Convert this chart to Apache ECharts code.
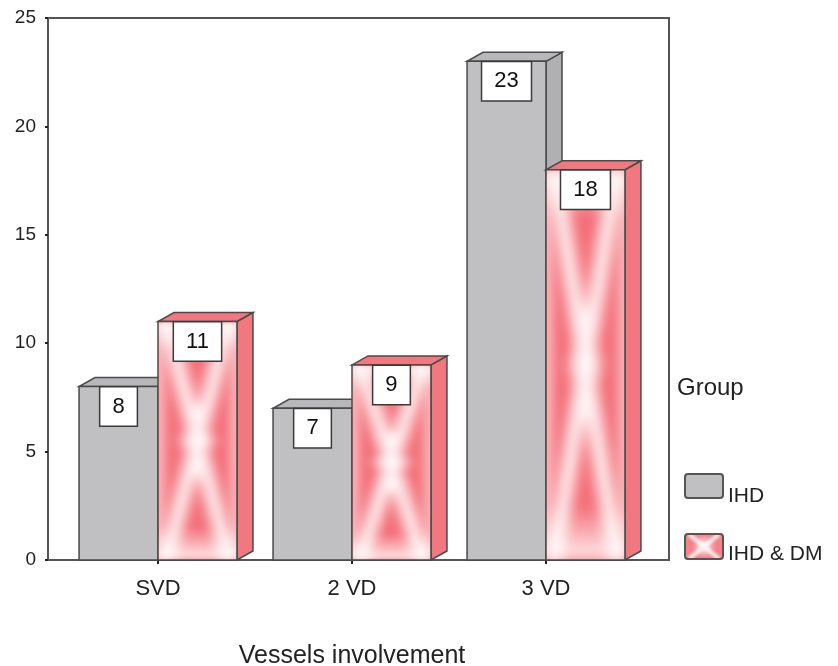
<!DOCTYPE html>
<html>
<head>
<meta charset="utf-8">
<script src="https://cdn.jsdelivr.net/npm/echarts@6/dist/echarts.min.js"></script>
<style>
html,body{margin:0;padding:0;background:#fff;}
#chart{width:838px;height:666px;}
</style>
</head>
<body>
<div id="chart"></div>
<script>
// ---- data ----
const categories = ['SVD', '2 VD', '3 VD'];
const ihdValues = [8, 7, 23];
const ihdDmValues = [11, 9, 18];
const seriesNames = ['IHD', 'IHD & DM'];
const yMin = 0, yMax = 25, yStep = 5;
const xAxisTitle = 'Vessels involvement';
const legendTitle = 'Group';

// ---- pattern textures (drawing only) ----
function makeXPattern(w, h, base, blur, lw, edge) {
  const c = document.createElement('canvas');
  c.width = w; c.height = h;
  const ctx = c.getContext('2d');
  ctx.fillStyle = base;
  ctx.fillRect(0, 0, w, h);
  ctx.filter = 'blur(' + blur + 'px)';
  ctx.fillStyle = 'rgba(255,255,255,0.95)';
  if (edge) {
    ctx.fillRect(-4, 0, 8, h);
    ctx.fillRect(w - 4, 0, 8, h);
    const gb = ctx.createLinearGradient(0, h * 0.86, 0, h);
    gb.addColorStop(0, 'rgba(255,255,255,0)');
    gb.addColorStop(1, 'rgba(255,255,255,0.9)');
    ctx.fillStyle = gb;
    ctx.fillRect(0, h * 0.86, w, h * 0.14);
    const gt = ctx.createLinearGradient(0, 0, 0, h * 0.12);
    gt.addColorStop(0, 'rgba(255,255,255,0.95)');
    gt.addColorStop(1, 'rgba(255,255,255,0)');
    ctx.fillStyle = gt;
    ctx.fillRect(0, 0, w, h * 0.12);
  }
  ctx.strokeStyle = 'rgba(255,255,255,0.92)';
  ctx.lineWidth = lw;
  ctx.beginPath();
  ctx.moveTo(w * 0.1, 0); ctx.lineTo(w * 0.9, h);
  ctx.moveTo(w * 0.9, 0); ctx.lineTo(w * 0.1, h);
  ctx.stroke();
  const rg = ctx.createRadialGradient(w / 2, h / 2, 0, w / 2, h / 2, w * 0.3);
  rg.addColorStop(0, 'rgba(255,255,255,1)');
  rg.addColorStop(1, 'rgba(255,255,255,0)');
  ctx.fillStyle = rg;
  ctx.fillRect(0, 0, w, h);
  return c;
}
const barPattern = makeXPattern(80, 400, '#f46e78', 7, 16, true);
const legendPattern = makeXPattern(40, 26, '#f3848b', 1.5, 4, false);

const chart = echarts.init(document.getElementById('chart'));

const DX = 16, DY = -9;
function makeRender(side, style) {
  return function (params, api) {
    const ci = api.value(0);
    const v = api.value(1);
    const base = api.coord([ci, 0]);
    const top = api.coord([ci, v]);
    const cw = api.size([1, 0])[0];
    const bw = cw * 0.407;
    const x0 = side < 0 ? base[0] - bw : base[0];
    const x1 = x0 + bw;
    const y0 = base[1], yt = top[1];
    const stroke = '#4a4a4a', lw = 1.5;
    const children = [];
    children.push({
      type: 'polygon',
      shape: { points: [[x1, yt], [x1 + DX, yt + DY], [x1 + DX, y0 + DY], [x1, y0]] },
      style: { fill: style.side, stroke: stroke, lineWidth: lw }
    });
    children.push({
      type: 'polygon',
      shape: { points: [[x0, yt], [x1, yt], [x1 + DX, yt + DY], [x0 + DX, yt + DY]] },
      style: { fill: style.top, stroke: stroke, lineWidth: lw }
    });
    if (style.pattern) {
      children.push({
        type: 'image',
        style: { image: style.pattern, x: x0, y: yt, width: bw, height: y0 - yt }
      });
      children.push({
        type: 'rect',
        shape: { x: x0, y: yt, width: bw, height: y0 - yt },
        style: { fill: 'none', stroke: stroke, lineWidth: lw }
      });
    } else {
      children.push({
        type: 'rect',
        shape: { x: x0, y: yt, width: bw, height: y0 - yt },
        style: { fill: style.front, stroke: stroke, lineWidth: lw }
      });
    }
    children.push({
      type: 'text',
      style: {
        text: String(v),
        x: x0 + bw / 2, y: yt + 1,
        align: 'center', verticalAlign: 'top',
        fontFamily: 'Liberation Sans, Arial, sans-serif',
        fontSize: 22, lineHeight: 24,
        fill: '#111',
        backgroundColor: '#fff',
        borderColor: '#3a3a3a', borderWidth: 1.5,
        padding: [7, 12, 7, 12]
      }
    });
    return { type: 'group', children: children };
  };
}

const font = 'Liberation Sans, Arial, sans-serif';

chart.setOption({
  animation: false,
  backgroundColor: '#fff',
  grid: { left: 61, right: 195, top: 18, bottom: 106, containLabel: false, outerBoundsMode: 'none' },
  xAxis: {
    type: 'category',
    data: categories,
    axisLine: { show: false },
    axisTick: { show: true, alignWithLabel: true, length: 4, lineStyle: { color: '#222', width: 2 } },
    axisLabel: { fontFamily: font, fontSize: 22, color: '#222', margin: 18 },
    name: xAxisTitle,
    nameLocation: 'middle',
    nameGap: 84,
    nameTextStyle: { fontFamily: font, fontSize: 25, color: '#222' },
    splitLine: { show: false }
  },
  yAxis: {
    type: 'value',
    min: yMin, max: yMax, interval: yStep,
    offset: 13,
    axisLine: { show: false },
    axisTick: { show: true, length: 3, lineStyle: { color: '#222', width: 2 } },
    axisLabel: { fontFamily: font, fontSize: 19, color: '#222', margin: 12 },
    splitLine: { show: false }
  },
  graphic: [
    { type: 'rect', z: 0, shape: { x: 48, y: 18, width: 621, height: 542 },
      style: { fill: 'none', stroke: '#555', lineWidth: 2 } },
    { type: 'text', left: 677, top: 376, style: { text: legendTitle, font: '24px Liberation Sans, Arial, sans-serif', fill: '#222' } },
    { type: 'rect', shape: { x: 685, y: 474, width: 38, height: 24, r: 3 },
      style: { fill: '#c0c0c3', stroke: '#555', lineWidth: 2 } },
    { type: 'text', left: 728, top: 486, style: { text: seriesNames[0], font: '21px Liberation Sans, Arial, sans-serif', fill: '#222' } },
    { type: 'image', style: { image: legendPattern, x: 685, y: 534, width: 38, height: 25 } },
    { type: 'rect', shape: { x: 685, y: 534, width: 38, height: 25, r: 3 },
      style: { fill: 'none', stroke: '#555', lineWidth: 2 } },
    { type: 'text', left: 728, top: 544, style: { text: seriesNames[1], font: '21px Liberation Sans, Arial, sans-serif', fill: '#222' } }
  ],
  series: [
    {
      name: seriesNames[0],
      type: 'custom',
      renderItem: makeRender(-1, { front: '#c0c0c3', top: '#b8b8bb', side: '#b0b0b3' }),
      encode: { x: 0, y: 1 },
      data: ihdValues.map((v, i) => [i, v])
    },
    {
      name: seriesNames[1],
      type: 'custom',
      renderItem: makeRender(1, { pattern: barPattern, top: '#f27880', side: '#f27880' }),
      encode: { x: 0, y: 1 },
      data: ihdDmValues.map((v, i) => [i, v])
    }
  ]
});
</script>
</body>
</html>
